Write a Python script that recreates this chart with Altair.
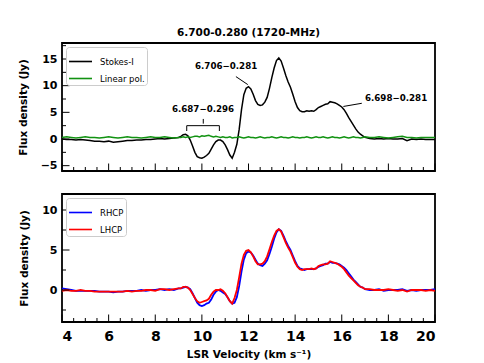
import altair as alt
import pandas as pd

# ---------------- data ----------------
velocity = [4.0, 4.2, 4.4, 4.6, 4.8, 5.0, 5.2, 5.4, 5.6, 5.8, 6.0, 6.2, 6.4, 6.6, 6.8,
            7.0, 7.2, 7.4, 7.6, 7.8, 8.0, 8.2, 8.4, 8.6, 8.8, 9.0,
            9.1, 9.2, 9.3, 9.4, 9.5, 9.6, 9.7, 9.8, 9.9, 10.0,
            10.1, 10.2, 10.3, 10.4, 10.5, 10.6, 10.7, 10.8, 10.9, 11.0,
            11.1, 11.2, 11.3, 11.4, 11.5, 11.6, 11.7, 11.8, 11.9, 12.0,
            12.1, 12.2, 12.3, 12.4, 12.5, 12.6, 12.7, 12.8, 12.9, 13.0,
            13.1, 13.2, 13.3, 13.4, 13.5, 13.6, 13.7, 13.8, 13.9, 14.0,
            14.1, 14.2, 14.3, 14.4, 14.5, 14.6, 14.7, 14.8, 14.9, 15.0,
            15.1, 15.2, 15.3, 15.4, 15.5, 15.6, 15.7, 15.8, 15.9, 16.0,
            16.1, 16.2, 16.3, 16.4, 16.5, 16.6, 16.7, 16.8, 16.9, 17.0,
            17.2, 17.4, 17.6, 17.8, 18.0, 18.2, 18.4, 18.6, 18.8, 19.0,
            19.2, 19.4, 19.6, 19.8, 20.0]

stokes_i = [0.0, -0.1, -0.1, -0.2, -0.1, -0.2, -0.3, -0.4, -0.4, -0.5, -0.4, -0.6, -0.5, -0.4, -0.3,
            -0.3, -0.2, -0.2, -0.1, -0.1, 0.0, 0.1, 0.0, 0.1, 0.2, 0.3,
            0.5, 0.8, 0.9, 0.6, -0.2, -1.3, -2.5, -3.3, -3.5, -3.6,
            -3.4, -3.1, -2.7, -1.9, -1.1, -0.5, -0.2, -0.2, -0.5, -1.1,
            -2.0, -3.0, -3.6, -2.5, -1.0, 1.8, 5.5, 8.3, 9.5, 9.8,
            9.4, 8.4, 7.2, 6.5, 6.3, 6.4, 6.9, 7.8, 9.5, 11.5,
            13.3, 14.7, 15.2, 14.6, 13.3, 11.9, 10.7, 9.7, 8.4, 7.0,
            5.9, 5.3, 5.1, 5.1, 5.3, 5.2, 5.3, 5.2, 5.5, 5.9,
            6.1, 6.3, 6.5, 6.6, 7.0, 6.9, 6.8, 6.6, 6.3, 6.0,
            5.5, 4.8, 4.0, 3.3, 2.6, 1.9, 1.3, 0.9, 0.6, 0.3,
            0.1, 0.0, 0.1, 0.0, 0.1, 0.0, 0.0, 0.1, -0.3, 0.0,
            -0.1, 0.0, -0.1, -0.1, -0.1]

linear_pol = [0.3, 0.4, 0.3, 0.2, 0.3, 0.4, 0.3, 0.3, 0.2, 0.3, 0.4, 0.3, 0.2, 0.3, 0.4,
              0.3, 0.3, 0.2, 0.3, 0.4, 0.3, 0.3, 0.4, 0.3, 0.2, 0.3,
              0.3, 0.4, 0.3, 0.4, 0.3, 0.4, 0.5, 0.5, 0.4, 0.6,
              0.5, 0.6, 0.7, 0.5, 0.4, 0.5, 0.4, 0.3, 0.4, 0.3,
              0.3, 0.4, 0.2, 0.3, 0.3, 0.4, 0.3, 0.2, 0.3, 0.4,
              0.3, 0.3, 0.2, 0.3, 0.4, 0.3, 0.2, 0.3, 0.3, 0.4,
              0.3, 0.2, 0.3, 0.4, 0.3, 0.3, 0.2, 0.3, 0.4, 0.3,
              0.3, 0.2, 0.3, 0.3, 0.4, 0.3, 0.2, 0.3, 0.4, 0.3,
              0.3, 0.4, 0.3, 0.2, 0.3, 0.4, 0.3, 0.3, 0.2, 0.3,
              0.4, 0.3, 0.2, 0.3, 0.4, 0.3, 0.3, 0.2, 0.3, 0.4,
              0.3, 0.3, 0.4, 0.3, 0.2, 0.3, 0.4, 0.5, 0.3, 0.3,
              0.2, 0.3, 0.3, 0.3, 0.3]

lhcp = [-0.1, 0.0, -0.1, -0.1, 0.0, -0.1, -0.1, -0.2, -0.2, -0.2, -0.2, -0.2, -0.2, -0.2, -0.1,
        -0.2, -0.1, -0.1, 0.0, 0.0, -0.1, 0.1, 0.1, 0.0, 0.1, 0.2,
        0.2, 0.4, 0.4, 0.3, 0.0, -0.5, -1.0, -1.4, -1.6, -1.5,
        -1.4, -1.3, -1.1, -0.6, -0.2, 0.0, 0.0, 0.1, -0.1, -0.4,
        -0.9, -1.4, -1.7, -1.0, 0.0, 1.6, 3.3, 4.4, 4.9, 5.0,
        4.7, 4.2, 3.6, 3.2, 3.2, 3.3, 3.6, 4.2, 5.1, 6.0,
        6.8, 7.4, 7.6, 7.3, 6.6, 5.9, 5.3, 4.8, 4.1, 3.4,
        2.9, 2.6, 2.5, 2.6, 2.6, 2.6, 2.7, 2.6, 2.7, 3.0,
        3.1, 3.2, 3.2, 3.3, 3.6, 3.5, 3.4, 3.3, 3.1, 2.9,
        2.6, 2.2, 1.8, 1.5, 1.2, 0.9, 0.6, 0.4, 0.3, 0.1,
        0.1, 0.0, 0.0, 0.0, 0.1, 0.0, -0.1, 0.0, -0.2, 0.0,
        0.0, 0.0, -0.1, 0.0, -0.1]

rhcp = [0.2, 0.1, 0.0, -0.1, -0.1, -0.1, -0.1, -0.1, -0.2, -0.2, -0.2, -0.3, -0.2, -0.2, -0.1,
        -0.1, -0.1, 0.0, -0.1, 0.0, 0.0, 0.1, 0.0, 0.1, 0.0, 0.2,
        0.2, 0.3, 0.4, 0.3, 0.1, -0.4, -1.0, -1.6, -1.9, -2.0,
        -1.9, -1.7, -1.6, -1.2, -0.6, -0.2, 0.0, -0.1, -0.3, -0.5,
        -0.9, -1.4, -1.7, -1.6, -0.9, 0.5, 2.3, 3.8, 4.6, 4.8,
        4.7, 4.3, 3.8, 3.3, 3.1, 3.0, 3.3, 3.7, 4.5, 5.4,
        6.4, 7.2, 7.6, 7.4, 6.8, 6.1, 5.5, 5.0, 4.3, 3.6,
        3.0, 2.7, 2.6, 2.5, 2.6, 2.6, 2.6, 2.6, 2.7, 2.9,
        3.0, 3.1, 3.3, 3.3, 3.5, 3.4, 3.4, 3.3, 3.2, 3.0,
        2.8, 2.5, 2.1, 1.7, 1.3, 1.0, 0.7, 0.4, 0.3, 0.1,
        0.0, 0.0, 0.1, -0.1, 0.0, 0.0, 0.0, 0.1, -0.1, 0.0,
        -0.1, 0.0, 0.0, 0.0, 0.1]

top_series = ["Stokes-I", "Linear pol."]
top_colors = ["#000000", "#119211"]
bottom_series = ["RHCP", "LHCP"]
bottom_colors = ["#0000ff", "#ff0000"]

x_major = [4, 6, 8, 10, 12, 14, 16, 18, 20]
x_minor = [4.5, 5, 5.5, 6.5, 7, 7.5, 8.5, 9, 9.5, 10.5, 11, 11.5, 12.5, 13, 13.5,
           14.5, 15, 15.5, 16.5, 17, 17.5, 18.5, 19, 19.5]
top_y_major = [-5, 0, 5, 10, 15]
top_y_minor = [-2.5, 2.5, 7.5, 12.5, 17.5]
bot_y_major = [0, 5, 10]
bot_y_minor = [-2.5, 2.5, 7.5]

# annotations
ann_text = ["6.706\u22120.281", "6.698\u22120.281", "6.687\u22120.296"]
ann_x = [11.04, 18.33, 10.05]
ann_y = [13.6, 7.77, 5.65]
lead_x = [11.46, 16.07, 9.35, 9.35, 10.75, 10.06]
lead_x2 = [11.97, 16.86, 10.75, 9.35, 10.75, 10.06]
lead_y = [11.7, 6.1, 2.5, 2.5, 2.5, 3.76]
lead_y2 = [10.2, 6.7, 2.5, 1.5, 1.5, 2.88]

# ---------------- build ----------------
W, H = 373, 128
FONT = "DejaVu Sans"

top_df = pd.DataFrame({"v": velocity * 2,
                       "flux": stokes_i + linear_pol,
                       "series": ["Stokes-I"] * len(velocity) + ["Linear pol."] * len(velocity)})
bot_df = pd.DataFrame({"v": velocity * 2,
                       "flux": rhcp + lhcp,
                       "pol": ["RHCP"] * len(velocity) + ["LHCP"] * len(velocity)})

xscale = alt.Scale(domain=[4, 20], nice=False, zero=False)
top_yscale = alt.Scale(domain=[-6, 18], nice=False, zero=False)
bot_yscale = alt.Scale(domain=[-4, 12], nice=False, zero=False)

legend_common = dict(orient="top-left", title=None, symbolType="stroke", symbolSize=529,
                     symbolStrokeWidth=1.6, labelFont=FONT, labelFontSize=8.5,
                     labelColor="black", strokeColor="#cccccc", fillColor="white",
                     padding=2, cornerRadius=3, offset=4, rowPadding=-2, labelOffset=7)

yaxis_common = dict(ticks=False, domain=False, grid=False, labelPadding=5,
                    title="Flux density (Jy)", titlePadding=12)
top_yaxis = alt.Axis(values=top_y_major, **yaxis_common)
bot_yaxis = alt.Axis(values=bot_y_major, **yaxis_common)
bot_xaxis = alt.Axis(values=x_major, ticks=False, domain=False, grid=False, labelPadding=7,
                     labelFontSize=14, title="LSR Velocity (km s\u207b\u00b9)", titlePadding=6)


def tick_layers(xaxis, yscale, yaxis, y_major, y_minor):
    xmaj = alt.Chart(pd.DataFrame({"v": x_major})).mark_rule(color="black", strokeWidth=1).encode(
        x=alt.X("v:Q", scale=xscale, axis=xaxis), y=alt.value(H), y2=alt.value(H - 7.5))
    xmin = alt.Chart(pd.DataFrame({"v": x_minor})).mark_rule(color="black", strokeWidth=1).encode(
        x=alt.X("v:Q", scale=xscale, axis=xaxis), y=alt.value(H), y2=alt.value(H - 4))
    ymaj = alt.Chart(pd.DataFrame({"flux": y_major})).mark_rule(color="black", strokeWidth=1).encode(
        y=alt.Y("flux:Q", scale=yscale, axis=yaxis), x=alt.value(0), x2=alt.value(7.5))
    ymin = alt.Chart(pd.DataFrame({"flux": y_minor})).mark_rule(color="black", strokeWidth=1).encode(
        y=alt.Y("flux:Q", scale=yscale, axis=yaxis), x=alt.value(0), x2=alt.value(4))
    return [xmaj, xmin, ymaj, ymin]


top_lines = alt.Chart(top_df).mark_line(strokeWidth=1.5).encode(
    x=alt.X("v:Q", scale=xscale, axis=None),
    y=alt.Y("flux:Q", scale=top_yscale, axis=top_yaxis),
    color=alt.Color("series:N", scale=alt.Scale(domain=top_series, range=top_colors),
                    sort=top_series, legend=alt.Legend(**legend_common)),
    order=alt.Order("v:Q"),
)

ann_df = pd.DataFrame({"t": ann_text, "v": ann_x, "flux": ann_y})
texts = alt.Chart(ann_df).mark_text(font=FONT, fontWeight="bold", fontSize=8.7,
                                    color="black", align="center", baseline="middle").encode(
    x=alt.X("v:Q", scale=xscale, axis=None),
    y=alt.Y("flux:Q", scale=top_yscale, axis=top_yaxis),
    text="t:N")

lead_df = pd.DataFrame({"v": lead_x, "v2": lead_x2, "flux": lead_y, "flux2": lead_y2})
leads = alt.Chart(lead_df).mark_rule(color="black", strokeWidth=1).encode(
    x=alt.X("v:Q", scale=xscale, axis=None), x2="v2:Q",
    y=alt.Y("flux:Q", scale=top_yscale, axis=top_yaxis), y2="flux2:Q")

top = alt.layer(top_lines, texts, leads,
                *tick_layers(None, top_yscale, top_yaxis, top_y_major, top_y_minor)).properties(
    width=W, height=H,
    title=alt.TitleParams("6.700-0.280 (1720-MHz)", font=FONT, fontWeight="bold",
                          fontSize=10.5, color="black", offset=5, anchor="middle"))

bot_lines = alt.Chart(bot_df).mark_line(strokeWidth=1.8).encode(
    x=alt.X("v:Q", scale=xscale, axis=bot_xaxis),
    y=alt.Y("flux:Q", scale=bot_yscale, axis=bot_yaxis),
    color=alt.Color("pol:N", scale=alt.Scale(domain=bottom_series, range=bottom_colors),
                    sort=bottom_series, legend=alt.Legend(**legend_common)),
    order=alt.Order("v:Q"),
)

bottom = alt.layer(bot_lines,
                   *tick_layers(bot_xaxis, bot_yscale, bot_yaxis, bot_y_major, bot_y_minor)).properties(
    width=W, height=H)

chart = alt.vconcat(top, bottom, spacing=20).resolve_scale(
    x="independent", y="independent", color="independent"
).properties(
    padding={"top": 18, "left": 9, "right": 5, "bottom": 0}
).configure_view(stroke="black", strokeWidth=1.8).configure_axis(
    labelFont=FONT, labelFontWeight="bold", labelFontSize=11, labelColor="black",
    titleFont=FONT, titleFontWeight="bold", titleFontSize=10.5, titleColor="black"
)

chart.save("out.html", embed_options={"renderer": "svg", "actions": False})
